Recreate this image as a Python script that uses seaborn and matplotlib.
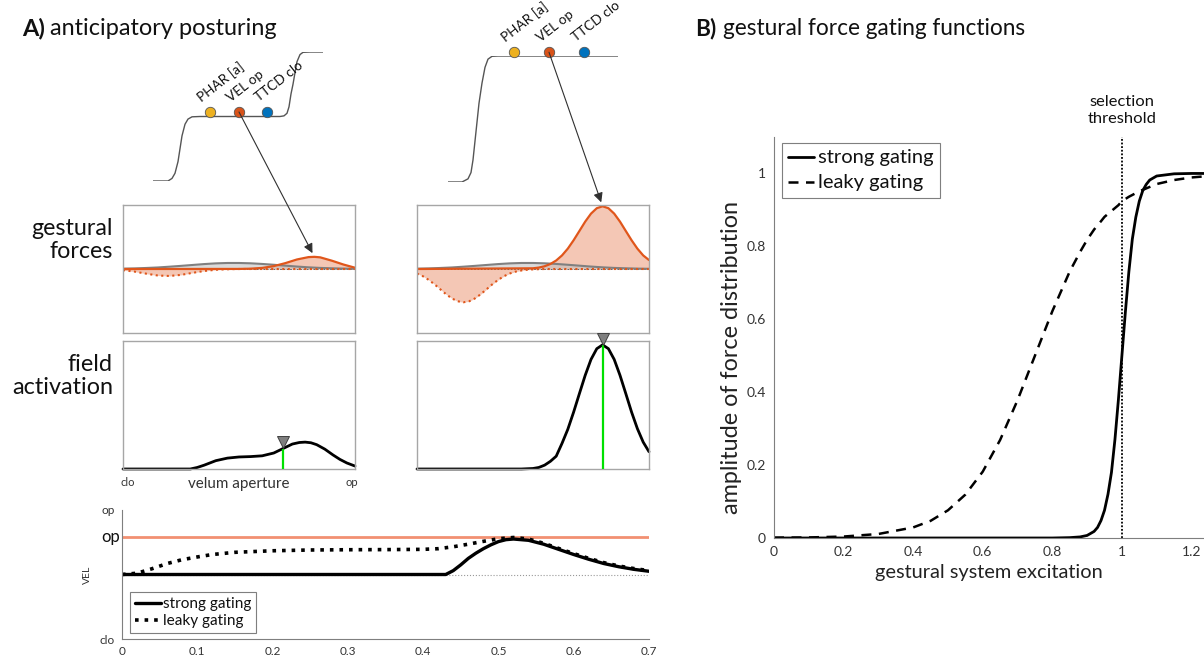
import matplotlib.pyplot as plt
import seaborn as sns
import numpy as np
import matplotlib.transforms as mtransforms
from matplotlib.patches import ConnectionPatch
from matplotlib.lines import Line2D

# ---------------------------------------------------------
# data
# ---------------------------------------------------------
gesture_names = ["PHAR [a]", "VEL op", "TTCD clo"]
gesture_colors = ["#EDB120", "#D95319", "#0072BD"]

# gestural score (time in arbitrary units, level 0..2)
score_l_t = [0, 15, 19, 22, 25, 27, 29, 32, 35, 39, 47, 127, 131, 134, 136, 138, 140, 142, 144, 147, 150, 157, 170]
score_l_lev = [0, 0, 0.04, 0.12, 0.3, 0.5, 0.7, 0.88, 0.96, 0.995, 1, 1, 1.01, 1.05, 1.15, 1.35, 1.5, 1.68, 1.85, 1.96, 1.995, 2, 2]
score_l_dot_t = [57, 86, 114]
score_l_dot_lev = 1.07

score_r_t = [0, 14, 20, 23, 25, 28, 31, 34, 37, 40, 44, 50, 170]
score_r_lev = [0, 0, 0.05, 0.15, 0.35, 0.8, 1.25, 1.57, 1.82, 1.95, 1.995, 2, 2]
score_r_dot_t = [66, 101, 136]
score_r_dot_lev = 2.06

# gestural forces over velum aperture (0 = clo, 1 = op)
gray_x = [0, 0.05, 0.1, 0.15, 0.2, 0.25, 0.3, 0.35, 0.4, 0.45, 0.5, 0.55, 0.6, 0.65, 0.7, 0.75, 0.8, 0.85, 0.9, 0.95, 1.0]
gray_y = [0.005, 0.009, 0.016, 0.024, 0.036, 0.049, 0.063, 0.077, 0.088, 0.094, 0.094, 0.089, 0.079, 0.066, 0.052, 0.038, 0.026, 0.017, 0.011, 0.006, 0.003]

force_l_x = [0, 0.5, 0.55, 0.6, 0.65, 0.7, 0.75, 0.8, 0.825, 0.85, 0.9, 0.95, 1.0]
force_l_y = [0, 0.001, 0.005, 0.017, 0.045, 0.092, 0.149, 0.186, 0.19, 0.182, 0.13, 0.07, 0.02]
dip_l_x = [0, 0.05, 0.1, 0.15, 0.2, 0.25, 0.3, 0.35, 0.4, 0.45, 0.5, 1.0]
dip_l_y = [-0.018, -0.041, -0.073, -0.102, -0.109, -0.092, -0.06, -0.031, -0.012, -0.004, 0, 0]

force_r_x = [0, 0.5, 0.525, 0.55, 0.575, 0.6, 0.625, 0.65, 0.675, 0.7, 0.725, 0.75, 0.775, 0.8,
             0.825, 0.85, 0.875, 0.9, 0.925, 0.95, 0.975, 1.0]
force_r_y = [0, 0.011, 0.022, 0.043, 0.078, 0.133, 0.212, 0.318, 0.449, 0.594, 0.74, 0.865, 0.95, 0.98,
             0.95, 0.865, 0.74, 0.594, 0.449, 0.318, 0.212, 0.14]
dip_r_x = [0, 0.025, 0.05, 0.075, 0.1, 0.125, 0.15, 0.175, 0.2, 0.225, 0.25, 0.275, 0.3, 0.325,
           0.35, 0.375, 0.4, 0.425, 0.45, 0.475, 0.5, 0.55, 1.0]
dip_r_y = [-0.07, -0.112, -0.169, -0.238, -0.316, -0.393, -0.459, -0.504, -0.52, -0.504, -0.459, -0.393,
           -0.316, -0.238, -0.169, -0.112, -0.07, -0.041, -0.023, -0.012, -0.006, 0, 0]

# field activation
act_l_x = [0, 0.29, 0.32, 0.35, 0.4, 0.45, 0.5, 0.55, 0.6, 0.65, 0.69, 0.73, 0.76, 0.785, 0.81, 0.835, 0.87, 0.905, 0.935, 0.965, 1.0]
act_l_y = [0, 0, 0.012, 0.03, 0.065, 0.085, 0.094, 0.097, 0.103, 0.125, 0.16, 0.195, 0.207, 0.21, 0.205, 0.19, 0.155, 0.11, 0.075, 0.047, 0.023]
act_l_sel = 10

act_r_x = [0, 0.45, 0.5, 0.525, 0.55, 0.575, 0.6, 0.625, 0.65, 0.675, 0.7, 0.725, 0.75, 0.775, 0.8,
           0.825, 0.85, 0.875, 0.9, 0.925, 0.95, 0.975, 1.0]
act_r_y = [0, 0, 0.004, 0.012, 0.03, 0.06, 0.1, 0.2, 0.31, 0.444, 0.589, 0.732, 0.856, 0.94, 0.97,
           0.94, 0.856, 0.732, 0.589, 0.444, 0.315, 0.21, 0.135]
act_r_sel = 14

# VEL trajectories
vel_target = 0.79
vel_rest = 0.5
strong_t = [0, 0.43, 0.44, 0.45, 0.46, 0.47, 0.48, 0.49, 0.5, 0.51, 0.52, 0.54, 0.56, 0.58, 0.6, 0.62, 0.64, 0.66, 0.68, 0.7]
strong_vel = [0.5, 0.5, 0.53, 0.575, 0.625, 0.665, 0.7, 0.73, 0.755, 0.77, 0.775, 0.765, 0.735, 0.695, 0.655, 0.618, 0.585, 0.56, 0.54, 0.525]
leaky_t = [0, 0.02, 0.04, 0.06, 0.08, 0.1, 0.12, 0.15, 0.2, 0.25, 0.3, 0.35, 0.4, 0.42, 0.44, 0.46, 0.48, 0.5, 0.52,
           0.54, 0.56, 0.58, 0.6, 0.62, 0.64, 0.66, 0.68, 0.7]
leaky_vel = [0.5, 0.51, 0.545, 0.585, 0.615, 0.636, 0.655, 0.672, 0.684, 0.69, 0.692, 0.693, 0.695, 0.7, 0.715, 0.735,
             0.757, 0.777, 0.787, 0.775, 0.742, 0.702, 0.662, 0.625, 0.592, 0.566, 0.546, 0.53]
vel_ticks = [0, 0.1, 0.2, 0.3, 0.4, 0.5, 0.6, 0.7]
vel_ticklabels = ["0", "0.1", "0.2", "0.3", "0.4", "0.5", "0.6", "0.7"]

# gating functions
gate_x = [0, 0.1, 0.2, 0.3, 0.4, 0.45, 0.5, 0.55, 0.6, 0.65, 0.7, 0.75, 0.8, 0.85, 0.88, 0.9, 0.92, 0.93, 0.94, 0.95,
          0.96, 0.97, 0.98, 0.99, 1.0, 1.01, 1.02, 1.03, 1.04, 1.05, 1.06, 1.07, 1.08, 1.1, 1.15, 1.2, 1.25]
strong_gate = [0, 0, 0, 0, 0, 0, 0, 0, 0, 0, 0, 0, 0, 0.001, 0.003, 0.007, 0.018, 0.029, 0.048, 0.076,
               0.12, 0.18, 0.27, 0.38, 0.5, 0.62, 0.73, 0.82, 0.88, 0.924, 0.953, 0.97, 0.982, 0.993, 0.999, 1.0, 1.0]
leaky_gate = [0.001, 0.0015, 0.004, 0.011, 0.029, 0.047, 0.076, 0.119, 0.182, 0.269, 0.378, 0.5, 0.622, 0.731,
              0.785, 0.818, 0.846, 0.858, 0.869, 0.881, 0.889, 0.897, 0.905, 0.913, 0.924, 0.93, 0.936, 0.941,
              0.946, 0.951, 0.955, 0.959, 0.963, 0.971, 0.982, 0.989, 0.993]
gate_ticks_x = [0, 0.2, 0.4, 0.6, 0.8, 1.0, 1.2]
gate_ticks_y = [0, 0.2, 0.4, 0.6, 0.8, 1.0]
threshold = 1.0

# ---------------------------------------------------------
# style
# ---------------------------------------------------------
sns.set_theme(style="white")
plt.rcParams["font.family"] = ["Lato", "DejaVu Sans"]
plt.rcParams["text.color"] = "#111111"

ORANGE = "#E0561B"
ORANGE_FILL = "#F4C7B5"
SALMON = "#F29072"
BOX = "#A6A6A6"

W, H = 1204, 658
fig = plt.figure(figsize=(W / 100, H / 100), dpi=100)


def box(x0, y0, x1, y1):
    # axes placed by pixel box (left, top, right, bottom)
    return fig.add_axes([x0 / W, 1 - y1 / H, (x1 - x0) / W, (y1 - y0) / H])


def fit(texts, target_px, vertical=False):
    # scale font so the first text spans target_px (reference width)
    r = fig.canvas.get_renderer()
    bb = texts[0].get_window_extent(renderer=r)
    span = bb.height if vertical else bb.width
    k = target_px / span
    for t in texts:
        t.set_fontsize(t.get_fontsize() * k)
    return texts[0].get_fontsize()


def frame(ax):
    ax.set_xticks([])
    ax.set_yticks([])
    for s in ax.spines.values():
        s.set_visible(True)
        s.set_color(BOX)
        s.set_linewidth(1.0)


def draw_score(ax, t, lev, dot_t, dot_lev):
    sns.lineplot(x=t, y=lev, ax=ax, color="#555555", linewidth=1.0)
    ax.set_xlim(0, 170)
    ax.set_ylim(0, 2)
    ax.axis("off")
    for tt, name, col in zip(dot_t, gesture_names, gesture_colors):
        ax.plot(tt, dot_lev, "o", ms=7.5, mfc=col, mec="#555555", mew=0.6, clip_on=False, zorder=3)
        ax.annotate(name, (tt, dot_lev), xytext=(-5, 6), textcoords="offset points", annotation_clip=False,
                    rotation=38, rotation_mode="anchor", ha="left", va="bottom", fontsize=9.8)


def draw_forces(ax, ox, oy, dx, dy):
    ax.fill_between(ox, oy, 0, color=ORANGE_FILL, lw=0)
    ax.fill_between(dx, dy, 0, color=ORANGE_FILL, lw=0)
    ax.fill_between(gray_x, gray_y, 0, color="#BFBFBF", alpha=0.55, lw=0)
    ax.axhline(0, color="#505050", lw=0.6, ls=(0, (2, 2)))
    sns.lineplot(x=gray_x, y=gray_y, ax=ax, color="#808080", linewidth=1.5)
    sns.lineplot(x=dx, y=dy, ax=ax, color=ORANGE, linewidth=1.5, linestyle=":")
    sns.lineplot(x=ox, y=oy, ax=ax, color=ORANGE, linewidth=1.6)
    ax.set_xlim(0, 1)
    ax.set_ylim(-1, 1)
    ax.set_xlabel("")
    ax.set_ylabel("")
    frame(ax)


def draw_activation(ax, x, y, sel):
    ax.vlines(x[sel], 0, y[sel], color="#00E000", lw=1.6, zorder=3)
    sns.lineplot(x=x, y=y, ax=ax, color="black", linewidth=2.0, clip_on=False)
    off = mtransforms.ScaledTranslation(0, 4.5 / 72, fig.dpi_scale_trans)
    ax.plot(x[sel], y[sel], marker="v", ms=9, mfc="#7F7F7F", mec="#404040", mew=0.7,
            transform=ax.transData + off, clip_on=False, zorder=5)
    ax.set_xlim(0, 1)
    ax.set_ylim(0, 1)
    ax.set_xlabel("")
    ax.set_ylabel("")
    frame(ax)


# ---------------------------------------------------------
# panel A
# ---------------------------------------------------------
t_a = fig.text(50 / W, 1 - 35 / H, "anticipatory posturing", fontsize=15, va="baseline")
fs_title = fit([t_a], 227)
fig.text(22 / W, 1 - 35 / H, "A)", fontsize=fs_title, fontweight="bold", va="baseline")

ax_sl = box(153, 52, 323, 181)
draw_score(ax_sl, score_l_t, score_l_lev, score_l_dot_t, score_l_dot_lev)
ax_sr = box(448, 56, 618, 182)
draw_score(ax_sr, score_r_t, score_r_lev, score_r_dot_t, score_r_dot_lev)

ax_fl = box(123, 205, 355, 333)
draw_forces(ax_fl, force_l_x, force_l_y, dip_l_x, dip_l_y)
ax_fr = box(417, 205, 649, 333)
draw_forces(ax_fr, force_r_x, force_r_y, dip_r_x, dip_r_y)

ax_al = box(123, 341, 355, 469)
draw_activation(ax_al, act_l_x, act_l_y, act_l_sel)
ax_ar = box(417, 341, 649, 469)
draw_activation(ax_ar, act_r_x, act_r_y, act_r_sel)

# arrows from the VEL op gesture to its force peak
for ax_s, dt, dl, ax_f, fx, fy in [(ax_sl, score_l_dot_t[1], score_l_dot_lev, ax_fl, force_l_x, force_l_y),
                                    (ax_sr, score_r_dot_t[1], score_r_dot_lev, ax_fr, force_r_x, force_r_y)]:
    k = int(np.argmax(fy))
    con = ConnectionPatch(xyA=(dt, dl), coordsA=ax_s.transData, xyB=(fx[k], fy[k]), coordsB=ax_f.transData,
                          arrowstyle="-|>", mutation_scale=14, color="#303030", lw=0.8, shrinkA=0, shrinkB=3)
    fig.add_artist(con)

t_gf = fig.text(113 / W, 1 - 240 / H, "gestural\nforces", fontsize=15, ha="right", va="center", linespacing=1.15)
fit([t_gf], 82)
t_fa = fig.text(113 / W, 1 - 376 / H, "field\nactivation", fontsize=15, ha="right", va="center", linespacing=1.15)
fit([t_fa], 101)
ax_al.text(0.02, -0.06, "clo", transform=ax_al.transAxes, fontsize=8, ha="center", va="top", color="#333333")
t_va = ax_al.text(0.5, -0.06, "velum aperture", transform=ax_al.transAxes, fontsize=11, ha="center", va="top", color="#333333")
fit([t_va], 101)
ax_al.text(0.985, -0.06, "op", transform=ax_al.transAxes, fontsize=8, ha="center", va="top", color="#333333")

# VEL trajectories
ax_v = box(122, 510, 649, 639)
ax_v.axhline(vel_target, color=SALMON, lw=2.0)
ax_v.axhline(vel_rest, color="#999999", lw=0.8, ls=":")
sns.lineplot(x=leaky_t, y=leaky_vel, ax=ax_v, color="black", linewidth=2.6, linestyle=":")
sns.lineplot(x=strong_t, y=strong_vel, ax=ax_v, color="black", linewidth=2.4)
ax_v.set_xlim(0, 0.7)
ax_v.set_ylim(0, 1)
ax_v.set_xticks(vel_ticks)
ax_v.set_xticklabels(vel_ticklabels)
ax_v.set_yticks([0, 1])
ax_v.set_yticklabels(["clo", "op"])
ax_v.set_xlabel("")
ax_v.set_ylabel("VEL", fontsize=7.5, labelpad=6, color="#333333")
ax_v.tick_params(axis="both", which="major", labelsize=8.5, length=3, width=0.8, colors="#7F7F7F",
                 labelcolor="#333333", direction="out", pad=2)
for side in ["top", "right"]:
    ax_v.spines[side].set_visible(False)
for side in ["left", "bottom"]:
    ax_v.spines[side].set_color("#7F7F7F")
    ax_v.spines[side].set_linewidth(0.8)
ax_v.text(-0.004, vel_target, "op", transform=ax_v.get_yaxis_transform(), fontsize=12, ha="right", va="center")
h_v = [Line2D([], [], color="black", lw=2.4), Line2D([], [], color="black", lw=2.6, ls=":")]
leg_v = ax_v.legend(h_v, ["strong gating", "leaky gating"], loc="lower left", bbox_to_anchor=(0.015, 0.047),
                    borderaxespad=0, fontsize=10, frameon=True, fancybox=False, edgecolor="#7F7F7F",
                    framealpha=1, handlelength=1.9, handletextpad=0.15, borderpad=0.35, labelspacing=0.2)
leg_v.get_frame().set_linewidth(0.8)
fit(leg_v.get_texts(), 88)

# ---------------------------------------------------------
# panel B
# ---------------------------------------------------------
t_b = fig.text(723 / W, 1 - 35 / H, "gestural force gating functions", fontsize=15, va="baseline")
fs_b = fit([t_b], 302)
fig.text(695 / W, 1 - 35 / H, "B)", fontsize=fs_b, fontweight="bold", va="baseline")

ax_b = box(774, 137, 1204, 538)
ax_b.axvline(threshold, color="black", lw=1.3, ls=(0, (1, 1)))
sns.lineplot(x=gate_x, y=leaky_gate, ax=ax_b, color="black", linewidth=1.8, linestyle=(0, (4, 3)))
sns.lineplot(x=gate_x, y=strong_gate, ax=ax_b, color="black", linewidth=2.0)
ax_b.set_xlim(0, 1.236)
ax_b.set_ylim(0, 1.1)
ax_b.set_xticks(gate_ticks_x)
ax_b.set_xticklabels(["0", "0.2", "0.4", "0.6", "0.8", "1", "1.2"])
ax_b.set_yticks(gate_ticks_y)
ax_b.set_yticklabels(["0", "0.2", "0.4", "0.6", "0.8", "1"])
ax_b.tick_params(axis="both", which="major", labelsize=10, length=3, width=0.8, colors="#7F7F7F",
                 labelcolor="#333333", direction="out", pad=3)
for side in ["top", "right"]:
    ax_b.spines[side].set_visible(False)
for side in ["left", "bottom"]:
    ax_b.spines[side].set_color("#7F7F7F")
    ax_b.spines[side].set_linewidth(0.8)
ax_b.set_xlabel("gestural system excitation", fontsize=15, color="#222222", labelpad=4)
ax_b.set_ylabel("amplitude of force distribution", fontsize=15, color="#222222")
fit([ax_b.xaxis.label], 230)
fit([ax_b.yaxis.label], 313, vertical=True)
ax_b.yaxis.set_label_coords(-0.075, 0.45)
t_sel = ax_b.text(threshold, 1.13, "selection\nthreshold", fontsize=10.5, ha="center", va="bottom", linespacing=1.25)
fit([t_sel], 69)
h_b = [Line2D([], [], color="black", lw=2.0), Line2D([], [], color="black", lw=1.8, ls=(0, (4, 3)))]
leg_b = ax_b.legend(h_b, ["strong gating", "leaky gating"], loc="upper left", bbox_to_anchor=(8 / 430, 1 - 6 / 401),
                    borderaxespad=0, fontsize=13, frameon=True, fancybox=False, edgecolor="#7F7F7F",
                    framealpha=1, handlelength=1.4, handletextpad=0.25, borderpad=0.35, labelspacing=0.45)
leg_b.get_frame().set_linewidth(0.8)
fit(leg_b.get_texts(), 115)

plt.savefig("out.png", dpi=100)
